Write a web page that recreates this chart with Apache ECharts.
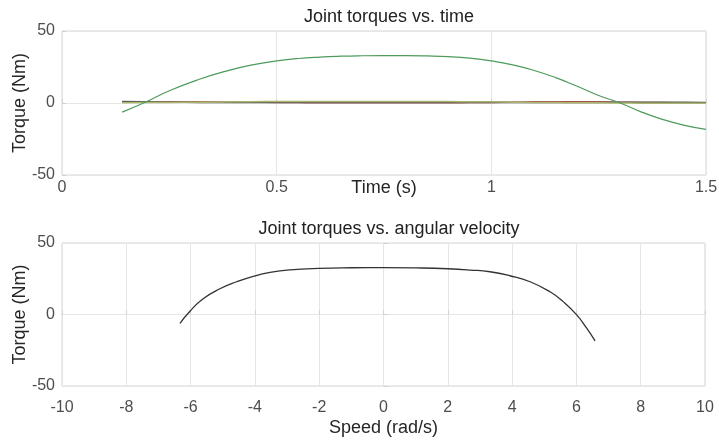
<!DOCTYPE html>
<html>
<head>
<meta charset="utf-8">
<script src="https://cdn.jsdelivr.net/npm/echarts@6/dist/echarts.min.js"></script>
<style>html,body{margin:0;padding:0;background:#fff}#c{width:719px;height:440px}</style>
</head>
<body>
<div id="c"></div>
<script>
// Top plot: joint torques vs time
var time = [0.14,0.19,0.25,0.32,0.38,0.44,0.5,0.55,0.6,0.65,0.7,0.75,0.8,0.85,0.9,0.95,1.0,1.05,1.1,1.15,1.2,1.25,1.3,1.35,1.4,1.45,1.5];
var torqueJoint1 = [-6.3,0,8.5,16.5,22,26.3,29.2,30.9,31.9,32.5,32.8,32.9,32.9,32.7,32.2,31.1,29.2,26.5,22.6,17.6,11.6,5.2,0,-6.3,-11.5,-15.5,-18.3];
var torqueJoint2 = [0.6,0.7,0.8,0.8,0.7,0.6,0.4,0.3,0.2,0.2,0.2,0.2,0.2,0.2,0.2,0.3,0.4,0.6,0.8,0.9,0.9,0.8,0.6,0.4,0.3,0.2,0.1];
var torqueJoint3 = [0.2,0.3,0.4,0.5,0.7,0.9,1.0,1.0,1.0,1.0,1.0,1.0,1.0,1.0,1.0,0.9,0.8,0.6,0.4,0.3,0.2,0.1,0.0,-0.1,-0.1,-0.1,-0.1];
var torqueJoint4 = [1.0,0.9,0.6,0.4,0.3,0.3,0.3,0.3,0.3,0.3,0.3,0.3,0.3,0.3,0.3,0.3,0.3,0.3,0.3,0.3,0.3,0.4,0.5,0.5,0.5,0.5,0.4];
var timeTicks = [0, 0.5, 1, 1.5];

// Bottom plot: torque vs angular velocity
var speed = [-6.33,-6.02,-5.61,-5.09,-4.57,-4.05,-3.53,-2.91,-2,-1,0,1,2,2.7,3.31,3.93,4.56,5.18,5.59,6.01,6.32,6.58];
var torqueSpeed = [-6.2,2.3,11.0,18.0,22.9,26.7,29.4,31.2,32.3,32.7,32.8,32.6,32.0,31.1,29.9,27.1,22.9,15.9,9.0,-0.3,-9.6,-18.5];
var speedTicks = [-10,-8,-6,-4,-2,0,2,4,6,8,10];
var torqueTicks = [-50, 0, 50];

function pairs(xs, ys){ return xs.map(function(x,i){ return [x, ys[i]]; }); }

var FONT = '"Liberation Sans", Arial, sans-serif';
var labelStyle = {color:'#4d4d4d', fontSize:16, fontFamily:FONT};
var nameStyle = {fontSize:18, color:'#262626', fontFamily:FONT};
var gridLine = {show:true, lineStyle:{color:'#e6e6e6', width:1}};
var tick = {show:true, inside:true, length:4, lineStyle:{color:'#d0d0d0'}};

var chart = echarts.init(document.getElementById('c'));
chart.setOption({
  animation:false,
  backgroundColor:'#fff',
  title:[
    {text:'Joint torques vs. time', left:384, top:3, textAlign:'center',
     textStyle:{fontSize:18, fontWeight:'normal', color:'#222', fontFamily:FONT}},
    {text:'Joint torques vs. angular velocity', left:384, top:215, textAlign:'center',
     textStyle:{fontSize:18, fontWeight:'normal', color:'#222', fontFamily:FONT}}
  ],
  grid:[
    {left:62, top:31, width:644, height:144, show:true, borderColor:'#d6d6d6', borderWidth:1,
     containLabel:false, outerBoundsMode:'none'},
    {left:62, top:243, width:643, height:143, show:true, borderColor:'#d6d6d6', borderWidth:1,
     containLabel:false, outerBoundsMode:'none'}
  ],
  xAxis:[
    {type:'value', gridIndex:0, min:timeTicks[0], max:timeTicks[timeTicks.length-1], interval:0.5,
     name:'Time (s)', nameLocation:'middle', nameGap:4, nameMoveOverlap:false, nameTextStyle:nameStyle,
     axisLine:{show:false}, axisTick:tick,
     axisLabel:Object.assign({margin:5}, labelStyle), splitLine:gridLine},
    {type:'value', gridIndex:1, min:speedTicks[0], max:speedTicks[speedTicks.length-1], interval:2,
     name:'Speed (rad/s)', nameLocation:'middle', nameGap:33, nameMoveOverlap:false, nameTextStyle:nameStyle,
     axisLine:{show:false}, axisTick:tick,
     axisLabel:Object.assign({margin:14}, labelStyle), splitLine:gridLine}
  ],
  yAxis:[
    {type:'value', gridIndex:0, min:torqueTicks[0], max:torqueTicks[2], interval:50,
     name:'Torque (Nm)', nameLocation:'middle', nameGap:33, nameRotate:90, nameMoveOverlap:false, nameTextStyle:nameStyle,
     axisLine:{show:false}, axisTick:tick,
     axisLabel:Object.assign({margin:7}, labelStyle), splitLine:gridLine},
    {type:'value', gridIndex:1, min:torqueTicks[0], max:torqueTicks[2], interval:50,
     name:'Torque (Nm)', nameLocation:'middle', nameGap:33, nameRotate:90, nameMoveOverlap:false, nameTextStyle:nameStyle,
     axisLine:{show:false}, axisTick:tick,
     axisLabel:Object.assign({margin:7}, labelStyle), splitLine:gridLine}
  ],
  series:[
    {type:'line', xAxisIndex:0, yAxisIndex:0, data:pairs(time, torqueJoint2), smooth:true, showSymbol:false,
     lineStyle:{color:'#c0504d', width:1.5}, z:2},
    {type:'line', xAxisIndex:0, yAxisIndex:0, data:pairs(time, torqueJoint4), smooth:true, showSymbol:false,
     lineStyle:{color:'#5a5a5a', width:1.5}, z:3},
    {type:'line', xAxisIndex:0, yAxisIndex:0, data:pairs(time, torqueJoint3), smooth:true, showSymbol:false,
     lineStyle:{color:'#a9b56c', width:1.5}, z:4},
    {type:'line', xAxisIndex:0, yAxisIndex:0, data:pairs(time, torqueJoint1), smooth:true, showSymbol:false,
     lineStyle:{color:'#4f9a5c', width:1.2}, z:5},
    {type:'line', xAxisIndex:1, yAxisIndex:1, data:pairs(speed, torqueSpeed), smooth:true, showSymbol:false,
     lineStyle:{color:'#333333', width:1.3}, z:5}
  ]
});
</script>
</body>
</html>
